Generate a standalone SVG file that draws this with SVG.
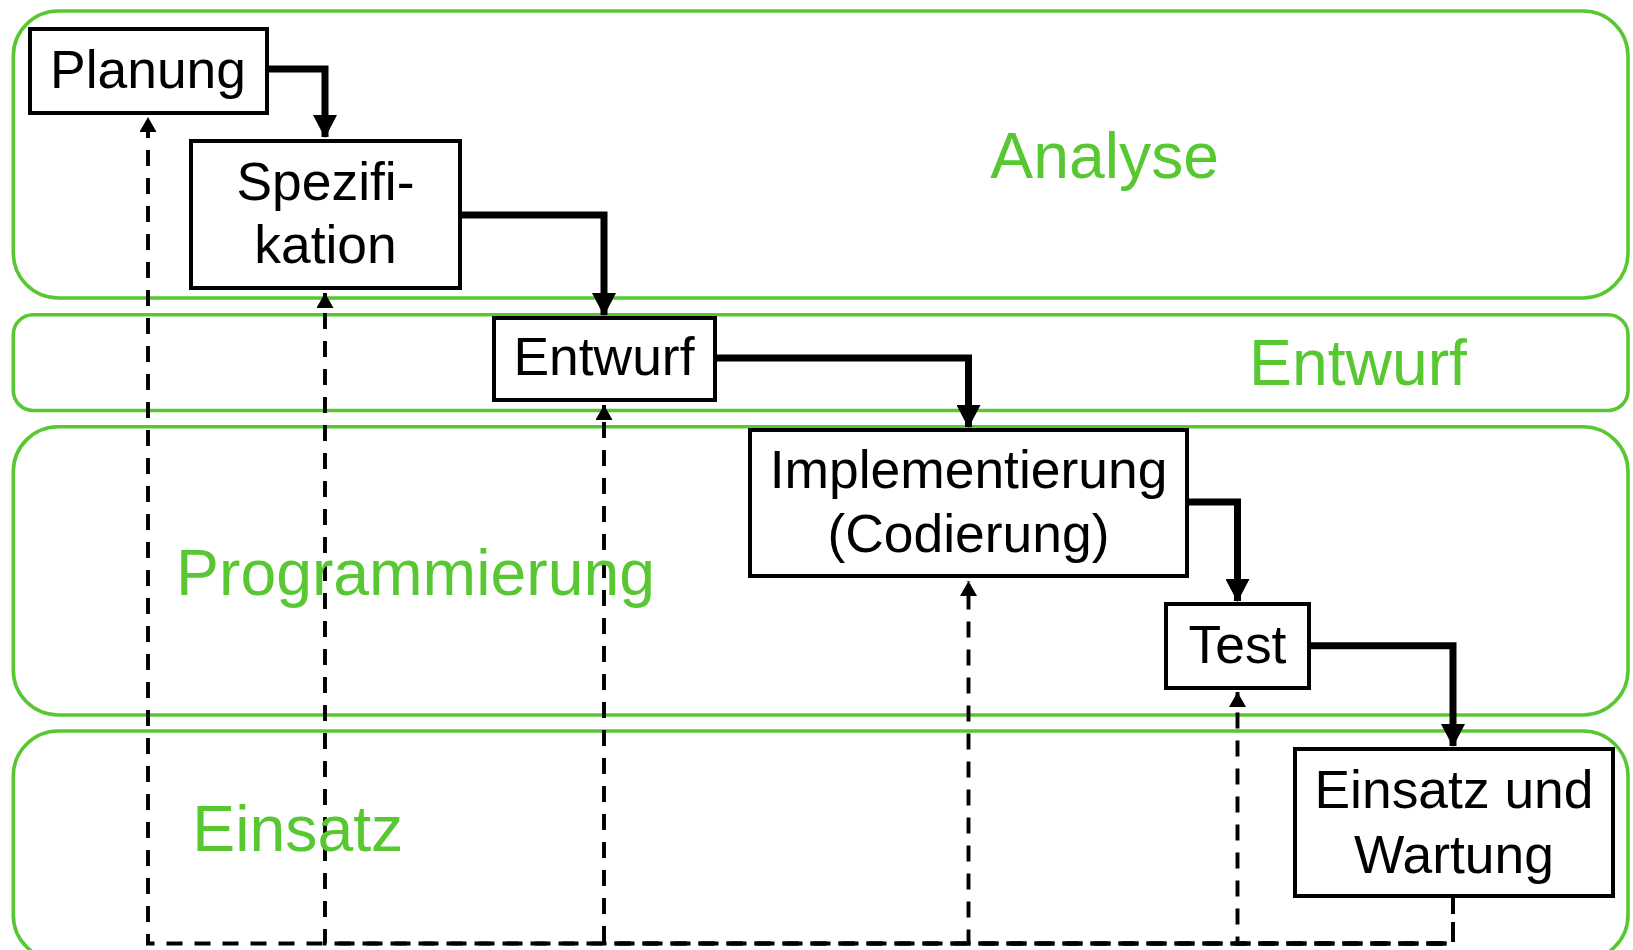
<svg xmlns="http://www.w3.org/2000/svg" width="1633" height="950" viewBox="0 0 1633 950">
  <style>
    .lane { fill: none; stroke: #58c832; stroke-width: 3.6; }
    .lane-label { font-family: "Liberation Sans", Arial, sans-serif; font-size: 64.3px; fill: #58c832; text-anchor: middle; }
    .box { fill: #ffffff; stroke: #000000; stroke-width: 4; }
    .box-text { font-family: "Liberation Sans", Arial, sans-serif; font-size: 53.4px; fill: #000000; text-anchor: middle; }
    .flow { fill: none; stroke: #000000; stroke-width: 7; stroke-linejoin: miter; }
    .back { fill: none; stroke: #000000; stroke-width: 3.9; stroke-dasharray: 16 12; }
  </style>
  <defs>
    <marker id="arrow-solid" markerUnits="userSpaceOnUse" markerWidth="24" markerHeight="24" refX="22" refY="12" orient="auto">
      <path d="M0,0 L23,12 L0,24 Z" fill="#000000"/>
    </marker>
    <marker id="arrow-dash" markerUnits="userSpaceOnUse" markerWidth="16" markerHeight="17" refX="15" refY="8.5" orient="auto">
      <path d="M0,0 L15,8.5 L0,17 Z" fill="#000000"/>
    </marker>
  </defs>

  <rect width="1633" height="950" fill="#ffffff"/>

  <!-- phase lanes -->
  <g id="lanes">
    <rect class="lane" x="13.3" y="11" width="1614.7" height="287" rx="45" ry="45"/>
    <rect class="lane" x="13.3" y="314.7" width="1614.7" height="95.8" rx="20" ry="20"/>
    <rect class="lane" x="13.3" y="426.7" width="1614.7" height="288.3" rx="45" ry="45"/>
    <rect class="lane" x="13.3" y="731" width="1614.7" height="229" rx="45" ry="45"/>
  </g>

  <!-- feedback paths (dashed) -->
  <g id="feedback">
    <path class="back" d="M1453,898 V943.5 H148 V117" marker-end="url(#arrow-dash)"/>
    <path class="back" style="stroke-dashoffset:4" d="M1453,898 V943.5 H325 V293" marker-end="url(#arrow-dash)"/>
    <path class="back" d="M1453,898 V943.5 H604 V405" marker-end="url(#arrow-dash)"/>
    <path class="back" style="stroke-dashoffset:4" d="M1453,898 V943.5 H968.5 V581" marker-end="url(#arrow-dash)"/>
    <path class="back" d="M1453,898 V943.5 H1237.5 V692" marker-end="url(#arrow-dash)"/>
  </g>

  <!-- lane labels -->
  <g id="lane-labels">
    <text class="lane-label" x="1104.7" y="178.3">Analyse</text>
    <text class="lane-label" x="1358" y="385">Entwurf</text>
    <text class="lane-label" x="415.5" y="595">Programmierung</text>
    <text class="lane-label" x="297.8" y="851">Einsatz</text>
  </g>

  <!-- forward flow between phases -->
  <g id="connectors">
    <path class="flow" d="M269,69 H325 V137" marker-end="url(#arrow-solid)"/>
    <path class="flow" d="M462,215 H604 V315" marker-end="url(#arrow-solid)"/>
    <path class="flow" d="M717,358 H968.5 V427" marker-end="url(#arrow-solid)"/>
    <path class="flow" d="M1189,502 H1237.5 V601" marker-end="url(#arrow-solid)"/>
    <path class="flow" d="M1311,645.7 H1453 V746" marker-end="url(#arrow-solid)"/>
  </g>

  <!-- phase boxes -->
  <g id="planung">
    <rect class="box" x="30" y="29" width="237" height="84"/>
    <text class="box-text" x="148" y="88">Planung</text>
  </g>
  <g id="spezifikation">
    <rect class="box" x="191" y="141" width="269" height="147"/>
    <text class="box-text" x="325.5" y="200">Spezifi-</text>
    <text class="box-text" x="325.5" y="263">kation</text>
  </g>
  <g id="entwurf">
    <rect class="box" x="494" y="318" width="221" height="82"/>
    <text class="box-text" x="604" y="375">Entwurf</text>
  </g>
  <g id="implementierung">
    <rect class="box" x="750" y="430" width="437" height="146"/>
    <text class="box-text" x="968.5" y="488">Implementierung</text>
    <text class="box-text" x="968.5" y="551.7">(Codierung)</text>
  </g>
  <g id="test">
    <rect class="box" x="1166" y="604" width="143" height="84"/>
    <text class="box-text" x="1237.5" y="663.3">Test</text>
  </g>
  <g id="einsatz-wartung">
    <rect class="box" x="1295" y="749" width="318" height="147"/>
    <text class="box-text" x="1454" y="808.3">Einsatz und</text>
    <text class="box-text" x="1454" y="872.7">Wartung</text>
  </g>
</svg>
